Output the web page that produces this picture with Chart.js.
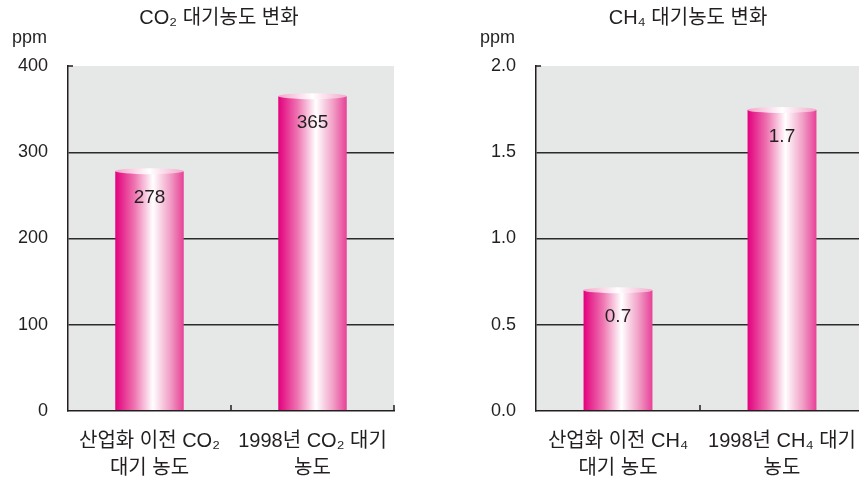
<!DOCTYPE html>
<html>
<head>
<meta charset="utf-8">
<script src="https://cdn.jsdelivr.net/npm/chart.js@4.4.0/dist/chart.umd.min.js"></script>
<style>
    html, body { margin: 0; padding: 0; background: #fff; overflow: hidden; width: 859px; height: 477px; }
    .box { position: absolute; top: 0; height: 477px; }
    #left { left: 0; width: 430px; }
    #right { left: 430px; width: 440px; }
</style>
</head>
<body>
<div class="box" id="left"><canvas id="co2" width="430" height="477"></canvas></div>
<div class="box" id="right"><canvas id="ch4" width="440" height="477"></canvas></div>
<script>
    'use strict';

    // CO2 chart data
    var co2Title = 'CO₂ 대기농도 변화';
    var co2Labels = [['산업화 이전 CO₂', '대기 농도'], ['1998년 CO₂ 대기', '농도']];
    var co2Values = [278, 365];
    var co2ValueText = ['278', '365'];
    var co2TickLabels = ['0', '100', '200', '300', '400'];

    // CH4 chart data
    var ch4Title = 'CH₄ 대기농도 변화';
    var ch4Labels = [['산업화 이전 CH₄', '대기 농도'], ['1998년 CH₄ 대기', '농도']];
    var ch4Values = [0.7, 1.745];
    var ch4ValueText = ['0.7', '1.7'];
    var ch4TickLabels = ['0.0', '0.5', '1.0', '1.5', '2.0'];

    var unitLabel = 'ppm';

    var FONT = '"Liberation Sans", "Noto Sans CJK KR", sans-serif';
    var INK = '#231f20';

    // draws the grey plot area, cylinder bars, value labels, title and small axis ticks
    var cylinderPlugin = {
        id: 'cylinder',
        beforeDraw: function(chart) {
            var a = chart.chartArea, ctx = chart.ctx;
            ctx.save();
            ctx.fillStyle = '#e6e7e7';
            ctx.fillRect(a.left, a.top, a.right - a.left, a.bottom - a.top);
            ctx.restore();
        },
        afterDatasetsDraw: function(chart, args, opts) {
            var ctx = chart.ctx;
            var meta = chart.getDatasetMeta(0);
            ctx.save();
            meta.data.forEach(function(bar, i) {
                var w = bar.width, l = bar.x - w / 2, r = bar.x + w / 2;
                var top = bar.y, base = bar.base;

                var g = ctx.createLinearGradient(l, 0, r, 0);
                g.addColorStop(0, '#e3007d');
                g.addColorStop(0.28, '#ee74b0');
                g.addColorStop(0.55, '#ffffff');
                g.addColorStop(0.8, '#f19fc6');
                g.addColorStop(1, '#e74097');
                ctx.fillStyle = g;
                ctx.fillRect(l, top, w, base - top);

                // top cap
                var cg = ctx.createLinearGradient(l, 0, r, 0);
                cg.addColorStop(0, '#f4a6ca');
                cg.addColorStop(0.5, '#ffffff');
                cg.addColorStop(1, '#f2a9cb');
                ctx.fillStyle = cg;
                ctx.beginPath();
                ctx.ellipse(bar.x, top, w / 2, 3, 0, 0, Math.PI * 2);
                ctx.fill();

                ctx.fillStyle = INK;
                ctx.font = '19px ' + FONT;
                ctx.textAlign = 'center';
                ctx.textBaseline = 'middle';
                ctx.fillText(opts.text[i], bar.x, top + 27);
            });
            ctx.restore();
        },
        afterDraw: function(chart, args, opts) {
            var a = chart.chartArea, ctx = chart.ctx;
            var xs = chart.scales.x;
            ctx.save();
            ctx.strokeStyle = INK;
            ctx.lineWidth = 1.5;
            ctx.beginPath();
            // little tick at the top of the y axis
            ctx.moveTo(a.left, a.top);
            ctx.lineTo(a.left + 5, a.top);
            // upward ticks between categories and at the right end
            for (var i = 0; i < xs.ticks.length - 1; i++) {
                var mx = (xs.getPixelForTick(i) + xs.getPixelForTick(i + 1)) / 2;
                ctx.moveTo(mx, a.bottom);
                ctx.lineTo(mx, a.bottom - 6);
            }
            ctx.moveTo(a.right, a.bottom);
            ctx.lineTo(a.right, a.bottom - 6);
            ctx.stroke();

            ctx.fillStyle = INK;
            ctx.textBaseline = 'middle';
            ctx.textAlign = 'center';
            ctx.font = '20px ' + FONT;
            ctx.fillText(opts.title, (a.left + a.right) / 2 - 12, 18);
            ctx.textAlign = 'right';
            ctx.font = '18px ' + FONT;
            ctx.fillText(unitLabel, a.left - 21, 38);
            ctx.restore();
        }
    };

    function makeChart(id, labels, values, valueText, tickLabels, max, step, title, yWidth, padRight) {
        return new Chart(document.getElementById(id), {
            type: 'bar',
            data: {
                labels: labels,
                datasets: [{
                    data: values,
                    backgroundColor: 'rgba(0,0,0,0)',
                    categoryPercentage: 1,
                    barPercentage: 0.42
                }]
            },
            options: {
                responsive: false,
                animation: false,
                layout: { padding: { top: 66, left: 0, right: padRight, bottom: 0 } },
                scales: {
                    x: {
                        grid: { display: false },
                        border: { display: true, color: INK, width: 1.5, z: 1 },
                        ticks: {
                            color: INK,
                            padding: 9,
                            maxRotation: 0,
                            font: { family: FONT, size: 20, lineHeight: 1.35 }
                        },
                        afterFit: function(s) { s.height = 66; }
                    },
                    y: {
                        min: 0,
                        max: max,
                        grid: {
                            drawTicks: false,
                            lineWidth: 1.4,
                            color: function(c) {
                                return (c.tick.value > 0 && c.tick.value < max) ? '#2b2b2b' : 'rgba(0,0,0,0)';
                            }
                        },
                        border: { display: true, color: INK, width: 1.5, z: 1 },
                        ticks: {
                            stepSize: step,
                            padding: 20,
                            color: INK,
                            font: { family: FONT, size: 18 },
                            callback: function(v, i) { return tickLabels[i]; }
                        },
                        afterFit: function(s) { s.width = yWidth; }
                    }
                },
                plugins: {
                    legend: { display: false },
                    tooltip: { enabled: false },
                    cylinder: { text: valueText, title: title }
                }
            },
            plugins: [cylinderPlugin]
        });
    }

    makeChart('co2', co2Labels, co2Values, co2ValueText, co2TickLabels, 400, 100, co2Title, 68, 36);
    makeChart('ch4', ch4Labels, ch4Values, ch4ValueText, ch4TickLabels, 2, 0.5, ch4Title, 106, 6);
</script>
</body>
</html>
